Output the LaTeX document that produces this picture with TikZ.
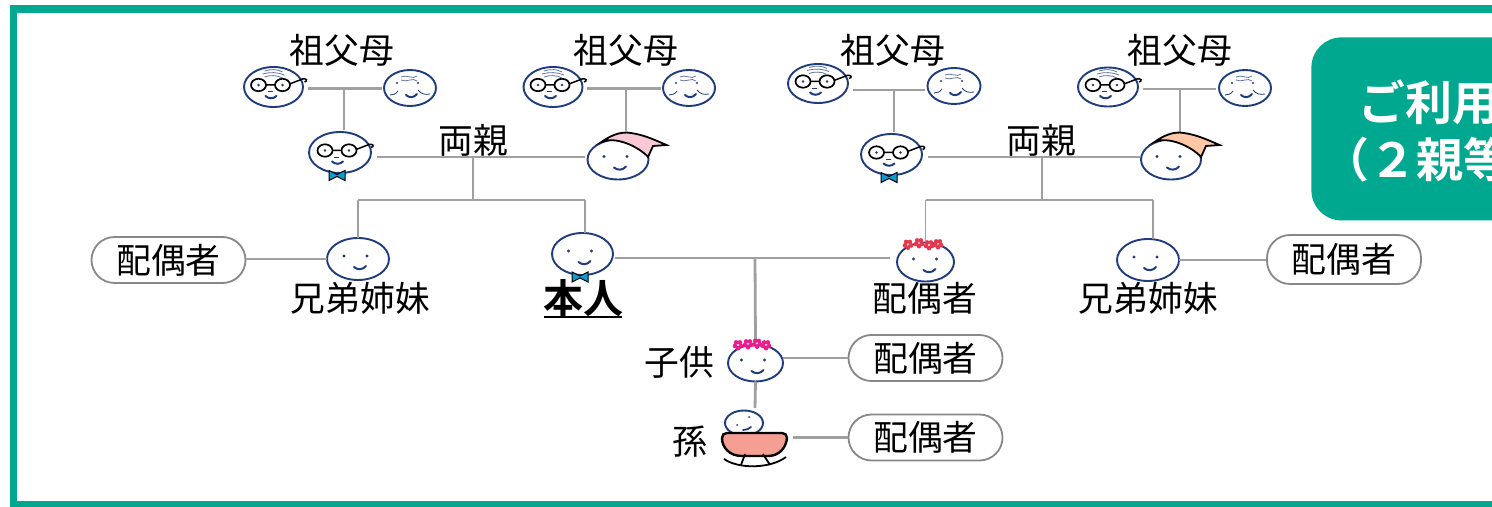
\documentclass[tikz,border=0pt]{standalone}
\usepackage{fontspec}
\setmainfont{Noto Sans CJK JP}
\usetikzlibrary{shapes.geometric}
\definecolor{teal}{HTML}{00A88F}
\definecolor{navy}{HTML}{1F3C7F}
\definecolor{conn}{HTML}{A0A0A0}
\definecolor{bowblue}{HTML}{109BD0}
\definecolor{hatpink}{HTML}{F9C8D6}
\definecolor{hatorange}{HTML}{FFC7A5}
\definecolor{bowl}{HTML}{F59E94}
\definecolor{flred}{HTML}{E5384F}
\definecolor{flpink}{HTML}{EC1C8C}
\tikzset{
  x=0.5pt,y=-0.5pt,
  face/.style={ellipse,draw=navy,line width=0.95pt,fill=white,inner sep=0pt,outer sep=0pt},
  conline/.style={draw=conn,line width=1.4pt},
  thinline/.style={draw=conn,line width=0.9pt},
  pill/.style={rounded corners=11.5pt,draw=conn!85!black,line width=0.9pt,fill=white,minimum width=77pt,minimum height=23pt,font=\fontsize{17.4}{20}\selectfont,inner sep=0pt},
  lab/.style={font=\fontsize{17.4}{20}\selectfont,inner sep=0pt},
  pics/eyes/.style={code={
    \fill[navy] (-14,-3) circle (1.6) (9,-3) circle (1.6);
    \draw[navy,line width=1pt,line cap=round] (-4,8) .. controls (-1,11) and (5,11) .. (8,7);
  }},
  pics/glasses/.style={code={
    \draw[black,line width=0.85pt] (-15,-2) ellipse (7.5 and 6.2) (9,-2) ellipse (7.5 and 6.2);
    \draw[black,line width=0.75pt] (-7.5,-2) -- (1.5,-2) (16,-3) -- (29,-8) .. controls (33,-9) and (35,-6) .. (31,-5);
    \fill[navy] (-15,-2) circle (1.3) (9,-2) circle (1.3);
    \draw[navy,line width=0.5pt] (-6,5) -- (-1,5);
    \draw[navy,line width=1pt,line cap=round] (-8,9) .. controls (-5,12) and (0,12) .. (3,9);
  }},
  pics/wrinkle/.style={code={
    \draw[navy!70,line width=0.4pt] (-9,-16) .. controls (-3,-18) and (4,-18) .. (9,-15)
      (-11,-13) .. controls (-4,-15) and (4,-15) .. (11,-12)
      (-9,-10) .. controls (-4,-12) and (4,-12) .. (9,-9);
  }},
  pics/granny/.style={code={
    \draw[navy!70,line width=0.4pt] (-9,-11) .. controls (-4,-14) and (3,-8) .. (7,-12)
      (-9,-8) .. controls (-4,-5) and (3,-11) .. (7,-7);
    \fill[navy] (-13,-5) circle (1.1) (8,-5) circle (1.1);
    \draw[navy,line width=0.4pt] (-20,7) .. controls (-17,7) and (-14,6) .. (-12,3)
      (8,2) .. controls (11,6) and (15,7) .. (20,6);
    \draw[navy,line width=1pt,line cap=round] (-4,7) .. controls (-1,10) and (4,10) .. (7,6);
  }},
  pics/bow/.style={code={
    \draw[black,fill=bowblue,line width=0.5pt] (-8,-5) -- (0,-1) -- (8,-5) -- (8,5) -- (0,1) -- (-8,5) -- cycle;
  }},
  pics/flower/.style={code={
    \foreach \a in {0,72,...,288} \fill[#1] (\a+90:3.2) circle (2.3);
    \fill[white!70!#1] (0,0) circle (1.1);
  }}
}
\newfontfamily\boldjp{Noto Sans CJK JP Bold}
\begin{document}
\begin{tikzpicture}
\useasboundingbox (0,0) rectangle (1492,507);
\clip (0,0) rectangle (1492,507);
\fill[white] (0,0) rectangle (1492,507);
\draw[teal,line width=3.6pt] (1510,9) -- (13.5,9) -- (13.5,505) -- (1510,505);

% junctions
\coordinate (j1) at (344,88.5);
\coordinate (j2) at (626,88.5);
\coordinate (j3) at (894,90);
\coordinate (j4) at (1180,89);
\coordinate (p1) at (473,157);
\coordinate (p2) at (1042,157);
\coordinate (b1) at (473,200);
\coordinate (b2) at (1042,200);
\coordinate (c1) at (755,258);

% connectors drawn first
\coordinate (g1r) at (308,88.5); \coordinate (g1l) at (382,88.5);
\coordinate (g2r) at (587,88.5); \coordinate (g2l) at (661,88.5);
\coordinate (g3r) at (853,90);   \coordinate (g3l) at (925,90);
\coordinate (g4r) at (1143,89);  \coordinate (g4l) at (1216,89);
\coordinate (f1r) at (377,157);  \coordinate (m1l) at (585,157);
\coordinate (f2r) at (928,157);  \coordinate (m2l) at (1140,157);
\coordinate (t1) at (344,130); \coordinate (t2) at (626,131);
\coordinate (t3) at (894,132); \coordinate (t4) at (1180,132);
\draw[conline] (g1r) -- (g1l);
\draw[conline] (g2r) -- (g2l);
\draw[conline] (g3r) -- (g3l);
\draw[conline] (g4r) -- (g4l);
\draw[conline] (j1) -- (t1);
\draw[conline] (j2) -- (t2);
\draw[conline] (j3) -- (t3);
\draw[conline] (j4) -- (t4);
\draw[conline] (f1r) -- (m1l);
\draw[conline] (f2r) -- (m2l);
\draw[conline] (p1) -- (b1);
\draw[conline] (p2) -- (b2);

% faces: grandparents
\node[face,minimum width=29.5pt,minimum height=20pt] (gf1) at (273.5,87) {};
\node[face,minimum width=26pt,minimum height=18pt] (gm1) at (410,88) {};
\node[face,minimum width=29.5pt,minimum height=20pt] (gf2) at (553,87) {};
\node[face,minimum width=26pt,minimum height=18pt] (gm2) at (689,88) {};
\node[face,minimum width=30pt,minimum height=19.5pt] (gf3) at (818,83.5) {};
\node[face,minimum width=26.5pt,minimum height=18pt] (gm3) at (954,86) {};
\node[face,minimum width=30pt,minimum height=19.5pt] (gf4) at (1108,87) {};
\node[face,minimum width=26pt,minimum height=18pt] (gm4) at (1245,88) {};
\foreach \n in {gf1,gf2,gf3,gf4} {
  \pic at (\n.center) {glasses};
  \pic at (\n.center) {wrinkle};
}
\foreach \n in {gm1,gm2,gm3,gm4} \pic at (\n.center) {granny};

% faces: parents
\node[face,minimum width=31pt,minimum height=20.5pt] (f1) at (340,152.5) {};
\node[face,minimum width=30.5pt,minimum height=20.5pt] (f2) at (891.5,154.5) {};
\pic at (f1.center) {glasses};
\pic at (f2.center) {glasses};
\pic at (337,175.5) {bow};
\pic at (889,177.5) {bow};
\node[face,minimum width=30.5pt,minimum height=20pt] (m1) at (618,159.5) {};
\node[face,minimum width=30pt,minimum height=20pt] (m2) at (1171,159.5) {};
\pic at (m1.center) {eyes};
\pic at (m2.center) {eyes};
\draw[black,line width=0.9pt,fill=hatpink] (601.5,142) .. controls (610,136) and (620,131) .. (631,133) .. controls (645,135) and (657,141) .. (666.5,145) -- (653,146) -- (648,157) .. controls (638,146) and (615,136) .. cycle;
\draw[black,line width=0.9pt,fill=hatorange] (1154.5,142) .. controls (1163,136) and (1173,131) .. (1184,133) .. controls (1198,135) and (1210,141) .. (1219.5,145) -- (1206,146) -- (1201,157) .. controls (1191,146) and (1168,136) .. cycle;

\node[lab] (lg1) at (342,50) {祖父母};
\node[lab] (lg2) at (626,50) {祖父母};
\node[lab] (lg3) at (893,50) {祖父母};
\node[lab] (lg4) at (1180,50) {祖父母};
\node[lab] (lp1) at (473,140) {両親};
\node[lab] (lp2) at (1041,140) {両親};

% second generation
\node[face,minimum width=31pt,minimum height=21pt] (s1) at (358,259) {};
\node[face,minimum width=30.5pt,minimum height=21pt] (me) at (582.5,254) {};
\node[face,minimum width=28.5pt,minimum height=19.5pt] (sp) at (925.5,262) {};
\node[face,minimum width=31pt,minimum height=21pt] (s2) at (1148,260) {};
\pic at (s1.center) {eyes};
\pic at (me.center) {eyes};
\pic at ([xshift=1pt]sp.center) {eyes};
\pic at (s2.center) {eyes};
\pic at (580,277) {bow};
\pic at (908,244.5) {flower={flred}};
\pic at (919,243) {flower={flred}};
\pic at (929,245) {flower={flred}};
\pic at (938,244) {flower={flred}};

\coordinate (mt) at (585,200);
\coordinate (mb) at (585,233);
\coordinate (s2t) at (1153,200);
\coordinate (s2b) at (1153,239);
\draw[thinline] (b1 -| s1) -- (mt);
\draw[thinline] (b1 -| s1) -- (s1.north);
\draw[thinline] (mt) -- (mb);
\draw[thinline] (b2 -| sp) -- (s2t);
\draw[thinline] (b2 -| sp) -- (sp.north);
\draw[thinline] (s2t) -- (s2b);

\node[pill] (ps1) at (168.5,260) {配偶者};
\node[pill,minimum height=24.5pt] (ps2) at (1344,259.5) {配偶者};
\draw[conline] (ps1.east |- s1) -- (s1.west);
\draw[conline] (s2.east) -- (ps2.west |- s2);
\coordinate (mer) at (615,258); \coordinate (spl) at (890,258);
\draw[conline] (mer) -- (spl);

\node[lab] (ls1) at (360.5,298) {兄弟姉妹};
\node[lab] (ls2) at (1148.5,298) {兄弟姉妹};
\node[lab] (lsp) at (925,298) {配偶者};
\node[lab,font=\fontsize{20}{22}\selectfont\boldjp] (lme) at (583,298) {本人};
\draw[black,line width=1pt] (544,317) -- (622,317);

% children
\node[face,minimum width=27.5pt,minimum height=18.5pt] (ch) at (755.5,363) {};
\draw[conline] (c1) -- (ch.north);
\node[face,minimum width=19pt,minimum height=12.5pt] (gc) at (744,423) {};
\draw[conline] (ch.south) -- (755,408);
\pic at (ch.center) {eyes};
\fill[navy] (737,425) circle (1) (749,417) circle (1);
\draw[navy,line width=0.9pt,line cap=round] (743,430) .. controls (746,430) and (749,429) .. (751,427);
\pic at (738,345) {flower={flpink}};
\pic at (748,344) {flower={flpink}};
\pic at (757,343.5) {flower={flpink}};
\pic at (766,345) {flower={flpink}};
\draw[black,line width=1.2pt,fill=bowl] (722,438) .. controls (722,435) and (724,433) .. (727,433) -- (782,433) .. controls (785,433) and (787,435) .. (787,438) .. controls (786,448) and (779,456) .. (768,456) -- (742,456) .. controls (730,456) and (722,448) .. (722,438) -- cycle;
\draw[black,line width=0.9pt] (724,459) .. controls (738,469) and (770,469) .. (786,457);
\draw[black,line width=0.9pt] (745,454) -- (741,465) (763,454) -- (770,465);
\node[lab] (lch) at (679,362) {子供};
\node[lab] (lgc) at (690,442) {孫};
\node[pill] (pc) at (925.5,358) {配偶者};
\node[pill] (pg) at (925.5,437.5) {配偶者};
\draw[conline] (ch.east |- pc) -- (pc.west);
\coordinate (bowlr) at (793,437.5);
\draw[conline] (bowlr) -- (pg.west);

% green box
\node[fill=teal,rounded corners=15pt,minimum width=120pt,minimum height=91.5pt,inner sep=0pt,anchor=north west] (box) at (1311,37) {};
\node[anchor=west,text=white,font=\fontsize{23.5}{26}\selectfont\boldjp,inner sep=0pt] (t1x) at (1358,102) {ご利用};
\node[anchor=west,text=white,font=\fontsize{23.5}{26}\selectfont\boldjp,inner sep=0pt] (t2x) at (1322,160) {（２親等};
\end{tikzpicture}
\end{document}
